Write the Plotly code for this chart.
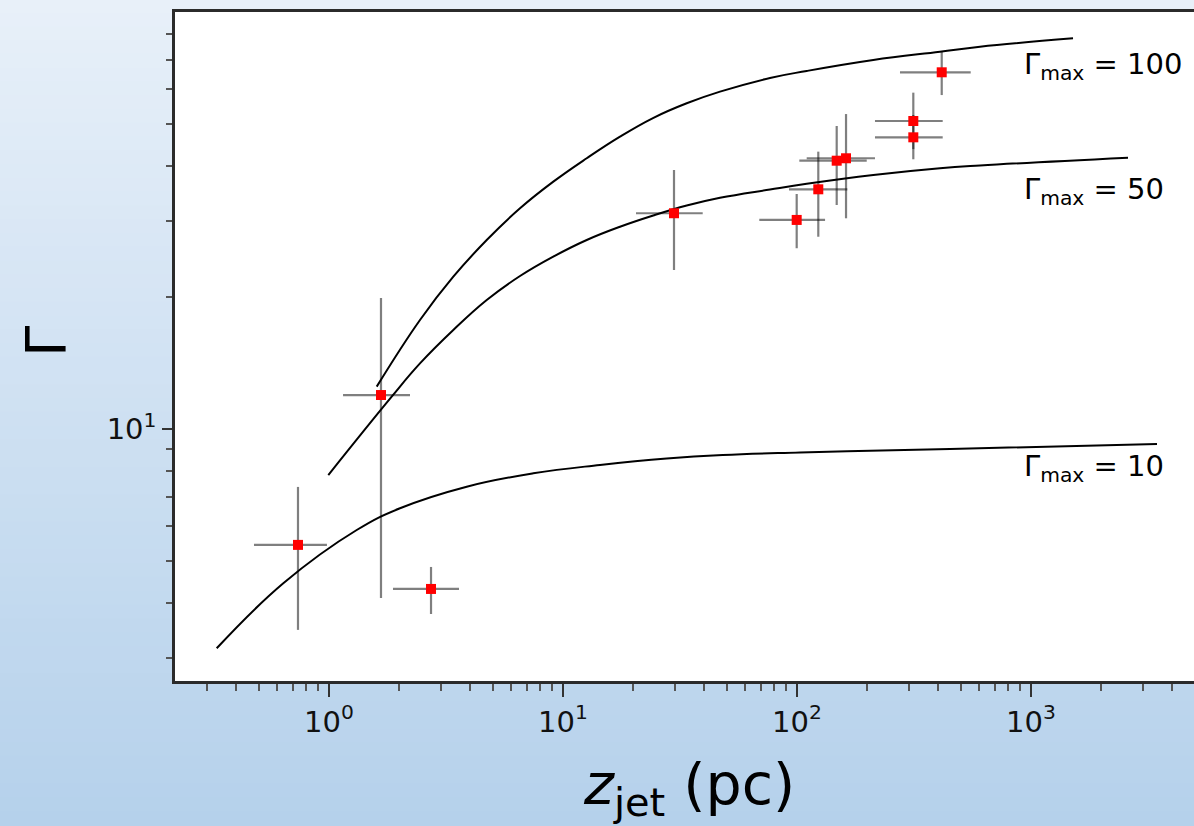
import numpy as np
import plotly.graph_objects as go

# ---- measured bulk Lorentz factors along the jet ----
z_pc     = [0.737, 1.668, 2.729, 29.81, 99.7, 123.3, 147.8, 162.0, 314.1, 314.1, 415.4]
z_lo     = [0.478, 1.148, 1.877, 20.51, 69.0, 92.4, 102.3, 110.0, 215.4, 215.4, 275.5]
z_hi     = [0.980, 2.219, 3.594, 39.54, 131.8, 164.1, 198.6, 215.4, 419.4, 419.4, 552.5]
gamma    = [5.43, 11.96, 4.305, 31.17, 30.09, 35.36, 41.11, 41.64, 50.68, 46.5, 65.5]
gamma_lo = [3.47, 4.105, 3.773, 23.11, 25.92, 27.54, 32.55, 30.35, 43.7, 41.42, 58.1]
gamma_hi = [7.37, 19.94, 4.834, 39.15, 34.5, 43.12, 49.36, 52.57, 58.84, 52.3, 73.0]

# ---- acceleration model curves for three terminal Lorentz factors ----
model_z_10 = [0.3312, 0.6378, 1.3136, 2.011, 3.877, 7.467, 14.39, 27.75, 48.14, 103.0, 450.7, 3455.0]
model_g_10 = [3.149, 4.436, 5.873, 6.585, 7.379, 7.917, 8.273, 8.56, 8.72, 8.836, 8.999, 9.24]

model_z_50 = [0.993, 1.853, 2.448, 3.398, 4.721, 6.551, 9.091, 12.63, 17.52, 24.31, 33.78,
              46.88, 76.67, 110.0, 211.9, 408.4, 605.5, 2597.0]
model_g_50 = [7.847, 11.86, 14.13, 16.85, 19.73, 22.39, 24.8, 27.07, 29.03, 30.8, 32.46,
              33.82, 35.32, 36.4, 38.13, 39.51, 40.09, 41.77]

model_z_100 = [1.599, 2.448, 3.398, 4.721, 6.551, 9.091, 12.63, 17.52, 24.24, 33.78, 46.88,
               76.67, 110.0, 211.9, 408.4, 605.5, 1512.0]
model_g_100 = [12.5, 17.76, 22.31, 27.07, 31.99, 36.81, 41.64, 46.66, 51.47, 55.64, 59.15,
               63.57, 65.96, 69.89, 73.02, 74.97, 78.35]

curve_labels = ["Γ<sub>max</sub> = 100", "Γ<sub>max</sub> = 50", "Γ<sub>max</sub> = 10"]

x_major = [1, 10, 100, 1000]
x_major_text = ["10<sup>0</sup>", "10<sup>1</sup>", "10<sup>2</sup>", "10<sup>3</sup>"]
x_minor = [0.3, 0.4, 0.5, 0.6, 0.7, 0.8, 0.9,
           2, 3, 4, 5, 6, 7, 8, 9,
           20, 30, 40, 50, 60, 70, 80, 90,
           200, 300, 400, 500, 600, 700, 800, 900,
           2000, 3000, 4000]
y_major = [10]
y_major_text = ["10<sup>1</sup>"]
y_minor = [3, 4, 5, 6, 7, 8, 9, 20, 30, 40, 50, 60, 70, 80]

FONT = "DejaVu Sans"
W, H = 1194, 826
ML, MR, MT, MB = 175, 0, 12, 145

fig = go.Figure()

for zs, gs in [(model_z_10, model_g_10), (model_z_50, model_g_50), (model_z_100, model_g_100)]:
    fig.add_trace(go.Scatter(
        x=zs, y=gs, mode="lines",
        line=dict(color="black", width=2, shape="spline", smoothing=1.2),
        hoverinfo="skip", showlegend=False,
    ))

z_arr = np.array(z_pc)
g_arr = np.array(gamma)
fig.add_trace(go.Scatter(
    x=z_pc, y=gamma, mode="markers",
    marker=dict(symbol="square", size=10, color="#ff0000", line=dict(width=0)),
    error_x=dict(type="data", symmetric=False,
                 array=(np.array(z_hi) - z_arr).tolist(),
                 arrayminus=(z_arr - np.array(z_lo)).tolist(),
                 color="rgba(0,0,0,0.5)", thickness=2.2, width=0),
    error_y=dict(type="data", symmetric=False,
                 array=(np.array(gamma_hi) - g_arr).tolist(),
                 arrayminus=(g_arr - np.array(gamma_lo)).tolist(),
                 color="rgba(0,0,0,0.5)", thickness=2.2, width=0),
    showlegend=False,
))

# vertical background gradient of the figure canvas
pw, ph = W - ML - MR, H - MT - MB
top_rgb = np.array([232, 240, 249])
bot_rgb = np.array([181, 209, 235])
n_bands = 60
edges = np.linspace(0, H, n_bands + 1)
shapes = []
for i in range(n_bands):
    c = top_rgb + (bot_rgb - top_rgb) * (i + 0.5) / n_bands
    y_top = (H - MB - edges[i]) / ph
    y_bot = (H - MB - edges[i + 1]) / ph
    shapes.append(dict(type="rect", xref="paper", yref="paper",
                       x0=-ML / pw - 0.01, x1=1.01, y0=y_bot - 0.002, y1=y_top + 0.002,
                       fillcolor="rgb(%d,%d,%d)" % tuple(c.round().astype(int)),
                       line=dict(width=0), layer="below"))
shapes.append(dict(type="rect", xref="paper", yref="paper", x0=0, x1=1.01, y0=0, y1=1,
                   fillcolor="white", line=dict(width=0), layer="below"))

annotations = []
for txt, py in zip(curve_labels, [66, 191, 468]):
    annotations.append(dict(
        text=txt, xref="paper", yref="paper",
        x=(1022 - ML) / pw, y=(H - MB - py) / ph,
        xanchor="left", yanchor="middle", showarrow=False,
        font=dict(family=FONT, size=29, color="black"),
    ))

annotations.append(dict(
    text="<i>z</i><sub>jet</sub> (pc)", xref="paper", yref="paper",
    x=(689 - ML) / pw, y=(H - MB - 788) / ph,
    xanchor="center", yanchor="middle", showarrow=False,
    font=dict(family=FONT, size=57, color="black"),
))
annotations.append(dict(
    text="Γ", xref="paper", yref="paper",
    x=(45 - ML) / pw, y=(H - MB - 342) / ph,
    xanchor="center", yanchor="middle", showarrow=False, textangle=-90,
    font=dict(family=FONT, size=56, color="black"),
))

axis_line = dict(showline=True, linecolor="#2b2b2b", linewidth=2.5,
                 showgrid=False, zeroline=False)

fig.update_layout(
    width=W, height=H,
    margin=dict(l=ML, r=MR, t=MT, b=MB, pad=0),
    paper_bgcolor="rgb(210,226,243)",
    plot_bgcolor="white",
    shapes=shapes,
    annotations=annotations,
    xaxis=dict(
        type="log", range=[(ML - 329) / 234, (W - 329) / 234],
        mirror=True, tickmode="array", tickvals=x_major, ticktext=x_major_text,
        ticks="outside", ticklen=13, tickwidth=2, tickcolor="#333333",
        tickfont=dict(family=FONT, size=29, color="#111111"),
        minor=dict(tickmode="array", tickvals=x_minor, ticks="outside",
                   ticklen=7, tickwidth=1.5, tickcolor="#555555", showgrid=False),
        **axis_line,
    ),
    yaxis=dict(
        type="log", range=[1 - (H - MB - 429) / 437, 1 + (429 - MT) / 437],
        mirror=False, tickmode="array", tickvals=y_major, ticktext=y_major_text,
        ticks="outside", ticklen=10, tickwidth=2, tickcolor="#333333",
        tickfont=dict(family=FONT, size=29, color="#111111"),
        minor=dict(tickmode="array", tickvals=y_minor, ticks="outside",
                   ticklen=6, tickwidth=1.5, tickcolor="#555555", showgrid=False),
        **axis_line,
    ),
)

fig.write_html("out.html")
